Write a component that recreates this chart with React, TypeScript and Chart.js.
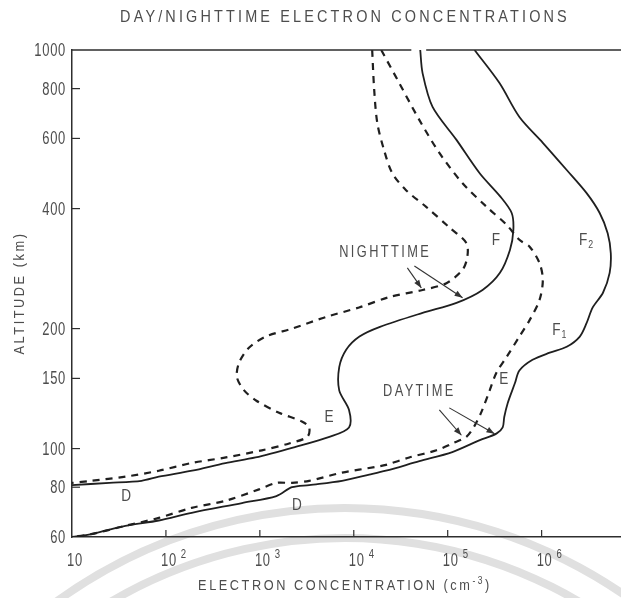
import React, { useEffect, useRef } from "react";
import { Chart, registerables } from "chart.js";

Chart.register(...registerables);

type Pt = [number, number]; // [electron concentration (cm^-3), altitude (km)]

// Nighttime profiles, listed from the top of the plot downwards
const nightSolid: Pt[] = [
  [5.1e4, 1000], [5.4e4, 875], [6.9e4, 720], [1.24e5, 595], [2.2e5, 490],
  [3.6e5, 430], [4.8e5, 390], [5.0e5, 353], [4.6e5, 315], [3.6e5, 276],
  [2.35e5, 250], [1.24e5, 232], [5.4e4, 219], [1.9e4, 202], [1.15e4, 191],
  [8.3e3, 177], [7.0e3, 160], [7.0e3, 140], [8.9e3, 125], [8.9e3, 113],
  [5.5e3, 107], [2.4e3, 101], [900, 95], [430, 92], [190, 88], [84, 85],
  [55, 83], [25, 82], [10, 81],
];

const nightDashed: Pt[] = [
  [1.57e4, 1000], [1.65e4, 794], [1.78e4, 656], [2.1e4, 561], [2.57e4, 491],
  [3.6e4, 445], [5.9e4, 404], [1.04e5, 359], [1.58e5, 328], [1.62e5, 303],
  [1.44e5, 281], [9.7e4, 260], [5.4e4, 250], [2.4e4, 240], [1.14e4, 226],
  [5.1e3, 214], [2.2e3, 200], [1.16e3, 191], [765, 179], [600, 164],
  [570, 151], [680, 140], [910, 132], [1.6e3, 123], [2.8e3, 117],
  [3.35e3, 113], [3.2e3, 107], [2.05e3, 103], [1.05e3, 99], [435, 95],
  [188, 92], [84, 88], [37, 85], [16, 83], [10, 82],
];

// Daytime profiles
const daySolid: Pt[] = [
  [1.93e5, 1000], [3.56e5, 826], [5.8e5, 679], [1.03e6, 585], [1.85e6, 500],
  [3.0e6, 438], [4.15e6, 390], [5.05e6, 347], [5.45e6, 309], [5.3e6, 276],
  [4.5e6, 246], [3.5e6, 226], [3.0e6, 206], [2.55e6, 191], [1.85e6, 180],
  [1.22e6, 174], [8.0e5, 167], [5.8e5, 157], [5.2e5, 146], [4.35e5, 130],
  [4.0e5, 120], [3.85e5, 113], [3.3e5, 109], [2.2e5, 105], [1.12e5, 98],
  [5.0e4, 93], [2.2e4, 88], [1.46e4, 86], [7.5e3, 83], [3.35e3, 81],
  [2.2e3, 80], [1.5e3, 76], [645, 73], [188, 69], [84, 66], [37, 64],
  [16, 61], [10, 60],
];

const dayDashed: Pt[] = [
  [1.96e4, 1000], [3.05e4, 826], [5.0e4, 667], [8.15e4, 552], [1.44e5, 463],
  [2.6e5, 404], [4.25e5, 364], [5.8e5, 334], [7.45e5, 321], [9.5e5, 292],
  [1.03e6, 265], [9.5e5, 236], [7.45e5, 210], [5.8e5, 191], [4.25e5, 170],
  [3.3e5, 155], [2.8e5, 140], [2.3e5, 124], [1.93e5, 114], [1.58e5, 107],
  [1.12e5, 103], [7.6e4, 99], [3.9e4, 95], [2.2e4, 91], [1.73e4, 90],
  [7.5e3, 87], [3.35e3, 83], [2.2e3, 82], [1.5e3, 82], [980, 79],
  [435, 74], [188, 71], [84, 67], [37, 64], [16, 61], [10, 60],
];

// Axis ticks
const yTickValues = [60, 80, 100, 150, 200, 400, 600, 800, 1000];
const xTickValues = [10, 100, 1e3, 1e4, 1e5, 1e6];
const xTickExponents = ["", "2", "3", "4", "5", "6"];

// Break in the upper frame line (concentration range)
const topFrameGap = [4.1e4, 5.9e4];

// Layer names and annotations, placed in data coordinates
const layerLabels = [
  { text: "D", sub: "", x: 38, y: 76 },
  { text: "D", sub: "", x: 2500, y: 72 },
  { text: "E", sub: "", x: 5500, y: 120 },
  { text: "E", sub: "", x: 4.0e5, y: 149 },
  { text: "F", sub: "", x: 3.3e5, y: 334 },
  { text: "F", sub: "2", x: 3.0e6, y: 334 },
  { text: "F", sub: "1", x: 1.56e6, y: 198 },
];
const captionLabels = [
  { text: "NIGHTTIME", x: 2.16e4, y: 311 },
  { text: "DAYTIME", x: 5.0e4, y: 139 },
];
const arrows: { from: Pt; to: Pt }[] = [
  { from: [3.72e4, 284], to: [5.24e4, 253] },
  { from: [4.42e4, 287], to: [1.44e5, 239] },
  { from: [8.15e4, 125], to: [1.4e5, 108] },
  { from: [1.04e5, 126.5], to: [3.15e5, 109] },
];

const TITLE = "DAY/NIGHTTIME ELECTRON CONCENTRATIONS";
const Y_TITLE = "ALTITUDE (km)";

const FONT = '"Liberation Sans", Arial, "DejaVu Sans", sans-serif';
const INK = "#1f1f1f";
const AXIS = "#2e2e2e";
const TEXT = "#4d4d4d";

type Piece = { text: string; size: number; dy?: number };

function measure(ctx: CanvasRenderingContext2D, p: Piece, squeeze: number, spacing: number) {
  ctx.font = `${p.size}px ${FONT}`;
  (ctx as any).letterSpacing = `${spacing}px`;
  return ctx.measureText(p.text).width * squeeze;
}

// Draws a run of text pieces (for super/subscripts), horizontally condensed
function drawRun(
  ctx: CanvasRenderingContext2D,
  pieces: Piece[],
  x: number,
  y: number,
  align: "left" | "center" | "right",
  squeeze: number,
  spacing: number,
  color = TEXT
) {
  ctx.save();
  const widths = pieces.map((p) => measure(ctx, p, squeeze, spacing));
  const total = widths.reduce((a, b) => a + b, 0);
  let cx = align === "left" ? x : align === "center" ? x - total / 2 : x - total;
  ctx.fillStyle = color;
  ctx.textBaseline = "middle";
  ctx.textAlign = "left";
  pieces.forEach((p, i) => {
    ctx.save();
    ctx.translate(cx, y + (p.dy || 0));
    ctx.scale(squeeze, 1);
    ctx.font = `${p.size}px ${FONT}`;
    (ctx as any).letterSpacing = `${spacing}px`;
    ctx.fillText(p.text, 0, 0);
    ctx.restore();
    cx += widths[i];
  });
  ctx.restore();
}

const decorations = {
  id: "decorations",
  beforeDraw(chart: any) {
    const { ctx, width, height } = chart;
    ctx.save();
    ctx.fillStyle = "#ffffff";
    ctx.fillRect(0, 0, width, height);
    // faint background arcs along the lower edge
    ctx.strokeStyle = "#e0e0e0";
    ctx.lineWidth = 8;
    [492, 462].forEach((r) => {
      ctx.beginPath();
      ctx.arc(345, 1000, r, Math.PI * 1.05, Math.PI * 1.95);
      ctx.stroke();
    });
    ctx.restore();
  },
  afterDraw(chart: any) {
    const { ctx, chartArea, scales } = chart;
    const { left, right, top, bottom } = chartArea;
    const xs = scales.x;
    const ys = scales.y;
    ctx.save();

    // upper frame line, with its break
    ctx.strokeStyle = AXIS;
    ctx.lineWidth = 1.3;
    const g0 = xs.getPixelForValue(topFrameGap[0]);
    const g1 = xs.getPixelForValue(topFrameGap[1]);
    ctx.beginPath();
    ctx.moveTo(left, top);
    ctx.lineTo(g0, top);
    ctx.moveTo(g1, top);
    ctx.lineTo(right, top);
    ctx.stroke();

    // inward tick marks
    ctx.lineWidth = 1.2;
    yTickValues.forEach((v) => {
      if (v === yTickValues[0] || v === yTickValues[yTickValues.length - 1]) return;
      const py = ys.getPixelForValue(v);
      ctx.beginPath();
      ctx.moveTo(left, py);
      ctx.lineTo(left + 8, py);
      ctx.stroke();
    });
    xTickValues.slice(1).forEach((v) => {
      const px = xs.getPixelForValue(v);
      ctx.beginPath();
      ctx.moveTo(px, bottom);
      ctx.lineTo(px, bottom - 7);
      ctx.stroke();
    });

    // tick labels
    yTickValues.forEach((v) => {
      const py = ys.getPixelForValue(v);
      drawRun(ctx, [{ text: String(v), size: 18 }], left - 6, py + 1, "right", 0.72, 1);
    });
    xTickValues.forEach((v, i) => {
      const px = xs.getPixelForValue(v);
      const base = { text: "10", size: 18 };
      const w = measure(ctx, base, 0.72, 1);
      drawRun(ctx, [base], px + 3, bottom + 24, "center", 0.72, 1);
      if (xTickExponents[i]) {
        drawRun(ctx, [{ text: xTickExponents[i], size: 12 }], px + 3 + w / 2 + 4, bottom + 18, "left", 0.8, 0);
      }
    });

    // curve annotations
    ctx.strokeStyle = "#333";
    ctx.fillStyle = "#333";
    ctx.lineWidth = 1.1;
    arrows.forEach(({ from, to }) => {
      const x1 = xs.getPixelForValue(from[0]);
      const y1 = ys.getPixelForValue(from[1]);
      const x2 = xs.getPixelForValue(to[0]);
      const y2 = ys.getPixelForValue(to[1]);
      const a = Math.atan2(y2 - y1, x2 - x1);
      ctx.beginPath();
      ctx.moveTo(x1, y1);
      ctx.lineTo(x2, y2);
      ctx.stroke();
      ctx.beginPath();
      ctx.moveTo(x2, y2);
      ctx.lineTo(x2 - 8 * Math.cos(a) + 3 * Math.sin(a), y2 - 8 * Math.sin(a) - 3 * Math.cos(a));
      ctx.lineTo(x2 - 8 * Math.cos(a) - 3 * Math.sin(a), y2 - 8 * Math.sin(a) + 3 * Math.cos(a));
      ctx.closePath();
      ctx.fill();
    });
    layerLabels.forEach((l) => {
      const px = xs.getPixelForValue(l.x);
      const py = ys.getPixelForValue(l.y);
      const pieces: Piece[] = [{ text: l.text, size: 17 }];
      if (l.sub) pieces.push({ text: l.sub, size: 11, dy: 5 });
      drawRun(ctx, pieces, px, py, "center", 0.8, 1);
    });
    captionLabels.forEach((l) => {
      drawRun(ctx, [{ text: l.text, size: 16 }], xs.getPixelForValue(l.x), ys.getPixelForValue(l.y), "center", 0.8, 3);
    });

    // titles
    drawRun(ctx, [{ text: TITLE, size: 17 }], 345, 17, "center", 0.85, 3.7);
    drawRun(
      ctx,
      [
        { text: "ELECTRON CONCENTRATION (cm", size: 15 },
        { text: "-3", size: 10, dy: -5 },
        { text: ")", size: 15 },
      ],
      345,
      586,
      "center",
      0.85,
      3
    );
    ctx.save();
    ctx.translate(20, 293);
    ctx.rotate(-Math.PI / 2);
    drawRun(ctx, [{ text: Y_TITLE, size: 15 }], 0, 0, "center", 0.85, 3);
    ctx.restore();

    ctx.restore();
  },
};

const series = (pts: Pt[], dashed: boolean) => ({
  data: pts.map(([x, y]) => ({ x, y })),
  showLine: true,
  borderColor: INK,
  borderWidth: dashed ? 2.2 : 1.8,
  borderDash: dashed ? [7, 6] : [],
  pointRadius: 0,
  pointHoverRadius: 0,
  tension: 0.3,
  fill: false,
});

export default function App() {
  const canvasRef = useRef<HTMLCanvasElement>(null);

  useEffect(() => {
    const canvas = canvasRef.current;
    if (!canvas) return;
    const chart = new Chart(canvas, {
      type: "scatter",
      data: {
        datasets: [
          series(nightSolid, false),
          series(nightDashed, true),
          series(daySolid, false),
          series(dayDashed, true),
        ],
      },
      options: {
        animation: false,
        responsive: false,
        events: [],
        layout: { padding: { top: 50, left: 0, right: 0, bottom: 0 } },
        plugins: { legend: { display: false }, tooltip: { enabled: false }, title: { display: false } },
        scales: {
          x: {
            type: "logarithmic",
            min: 10,
            max: 7e6,
            afterBuildTicks: (s: any) => {
              s.ticks = xTickValues.map((value) => ({ value }));
            },
            afterFit: (s: any) => {
              s.height = 61;
            },
            ticks: { display: false },
            grid: { display: false, drawTicks: false },
            border: { display: true, color: AXIS, width: 1.5 },
          },
          y: {
            type: "logarithmic",
            min: 60,
            max: 1000,
            afterBuildTicks: (s: any) => {
              s.ticks = yTickValues.map((value) => ({ value }));
            },
            afterFit: (s: any) => {
              s.width = 72;
            },
            ticks: { display: false },
            grid: { display: false, drawTicks: false },
            border: { display: true, color: AXIS, width: 1.5 },
          },
        },
      } as any,
      plugins: [decorations],
    });
    return () => chart.destroy();
  }, []);

  return (
    <div style={{ position: "fixed", left: 0, top: 0, width: 621, height: 598, background: "#fff" }}>
      <canvas ref={canvasRef} width={621} height={598} style={{ display: "block" }} />
    </div>
  );
}
